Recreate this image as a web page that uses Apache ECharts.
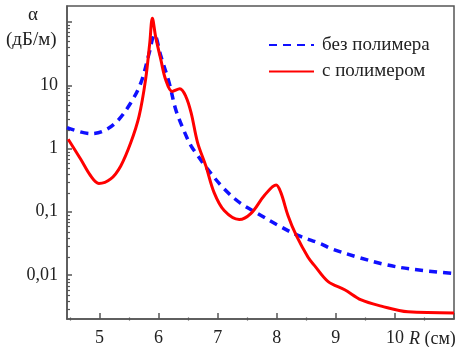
<!DOCTYPE html>
<html>
<head>
<meta charset="utf-8">
<script src="https://cdn.jsdelivr.net/npm/echarts@6/dist/echarts.min.js"></script>
<style>html,body{margin:0;padding:0;background:#fff}#c{width:462px;height:347px}</style>
</head>
<body>
<div id="c"></div>
<script>
const seriesNames = ['без полимера', 'с полимером'];

const blueX = [4.45, 4.85, 5.07, 5.30, 5.53, 5.70, 5.84, 5.93, 6.04, 6.18, 6.29, 6.43, 6.55, 6.66, 6.83, 7.11, 7.39, 7.68, 8.02, 8.36, 8.75, 8.92, 9.375, 9.83, 10.28, 11.0];
const blueY = [2.14, 1.72, 1.89, 2.7, 5.3, 10.9, 32, 63, 28.7, 10.9, 4.15, 1.9, 1.1, 0.78, 0.47, 0.23, 0.135, 0.093, 0.061, 0.042, 0.031, 0.026, 0.019, 0.0146, 0.0123, 0.0105];

const redX = [4.47, 4.68, 4.85, 4.99, 5.19, 5.36, 5.53, 5.67, 5.78, 5.85, 5.895, 5.95, 6.04, 6.12, 6.23, 6.36, 6.46, 6.55, 6.66, 6.80, 6.94, 7.11, 7.365, 7.56, 7.79, 7.99, 8.07, 8.19, 8.33, 8.53, 8.64, 8.87, 9.15, 9.43, 9.77, 10.22, 11.0];
const redY = [1.40, 0.68, 0.37, 0.28, 0.33, 0.53, 1.24, 3.25, 12.3, 46, 115, 59, 25, 12.3, 8.0, 8.8, 6.7, 3.7, 1.24, 0.53, 0.20, 0.104, 0.075, 0.093, 0.18, 0.265, 0.20, 0.087, 0.042, 0.019, 0.014, 0.0078, 0.0058, 0.004, 0.0032, 0.0026, 0.0025];

const yMajor = [0.01, 0.1, 1, 10, 100];
const yLabels = ['0,01', '0,1', '1', '10', ''];
const yMinor = [];
[0.001, 0.01, 0.1, 1, 10, 100].forEach(d => { for (let k = 2; k <= 9; k++) { const v = +(d * k).toPrecision(3); if (v > 0.002 && v < 180) yMinor.push(v); } });
const xMajor = [5, 6, 7, 8, 9, 10, 11];
const xLabelVals = [5, 6, 7, 8, 9, 10];
const xMinor = [4.5, 5.5, 6.5, 7.5, 8.5, 9.5, 10.5];

const font = '"Liberation Serif", "Times New Roman", Times, serif';
const axisColor = '#555';
const gridRect = {left: 67, right: 8, top: 6, bottom: 26.5};
const chart = echarts.init(document.getElementById('c'), null, {renderer: 'canvas'});
const pair = (xs, ys) => xs.map((x, i) => [x, ys[i]]);

chart.setOption({
  animation: false,
  grid: [
    Object.assign({show: true, borderColor: axisColor, borderWidth: 1.5}, gridRect),
    Object.assign({show: false}, gridRect)
  ],
  legend: {
    left: 268, top: 35, padding: 0, orient: 'vertical', itemWidth: 45, itemHeight: 14, itemGap: 6.5,
    itemStyle: {opacity: 0},
    textStyle: {fontFamily: font, fontSize: 19, lineHeight: 20, color: '#222', padding: [0, 0, 0, 3]},
    data: seriesNames
  },
  xAxis: [{
    gridIndex: 0, type: 'value', min: 4.45, max: 11, position: 'bottom',
    axisLine: {lineStyle: {color: axisColor, width: 1.5}},
    axisTick: {inside: true, length: 6, customValues: xMajor, lineStyle: {color: axisColor, width: 1.5}},
    axisLabel: {customValues: xLabelVals, fontFamily: font, fontSize: 18, color: '#222', margin: 10},
    splitLine: {show: false}
  }, {
    gridIndex: 1, type: 'value', min: 4.45, max: 11, position: 'bottom',
    axisLine: {show: false},
    axisTick: {inside: true, length: 3, customValues: xMinor, lineStyle: {color: axisColor, width: 1.2}},
    axisLabel: {show: false},
    splitLine: {show: false}
  }],
  yAxis: [{
    gridIndex: 0, type: 'log', logBase: 10, min: 0.002, max: 180, position: 'left',
    axisLine: {show: true, lineStyle: {color: axisColor, width: 1.5}},
    axisTick: {show: true, inside: true, length: 5, customValues: yMajor, lineStyle: {color: axisColor, width: 1.5}},
    axisLabel: {customValues: yMajor, fontFamily: font, fontSize: 18, color: '#222', margin: 9,
      formatter: v => { const i = yMajor.findIndex(m => Math.abs(Math.log10(m) - Math.log10(v)) < 1e-6); return i >= 0 ? yLabels[i] : ''; }},
    splitLine: {show: false}
  }, {
    gridIndex: 1, type: 'log', logBase: 10, min: 0.002, max: 180, position: 'left',
    axisLine: {show: false},
    axisTick: {show: true, inside: true, length: 3, customValues: yMinor, lineStyle: {color: axisColor, width: 1.2}},
    axisLabel: {show: false},
    splitLine: {show: false}
  }],
  series: [{
    name: seriesNames[0], type: 'line', data: pair(blueX, blueY), symbol: 'none', smooth: 0.35,
    lineStyle: {color: '#1010ff', width: 3.5, type: [8, 6]}, itemStyle: {color: '#1010ff'}, z: 3
  }, {
    name: seriesNames[1], type: 'line', data: pair(redX, redY), symbol: 'none', smooth: 0.35,
    lineStyle: {color: '#ff0000', width: 3}, itemStyle: {color: '#ff0000'}, z: 4
  }],
  graphic: [
    {type: 'text', left: 28, top: 6, style: {text: 'α', fontFamily: font, fontSize: 19, fill: '#222'}},
    {type: 'text', left: 6, top: 31, style: {text: '(дБ/м)', fontFamily: font, fontSize: 19, fill: '#222'}},
    {type: 'text', left: 409, top: 330, style: {text: '{i|R} (см)', fontFamily: font, fontSize: 18, fill: '#222',
      rich: {i: {fontFamily: font, fontStyle: 'italic', fontSize: 18, fill: '#222'}}}}
  ]
});
</script>
</body>
</html>
